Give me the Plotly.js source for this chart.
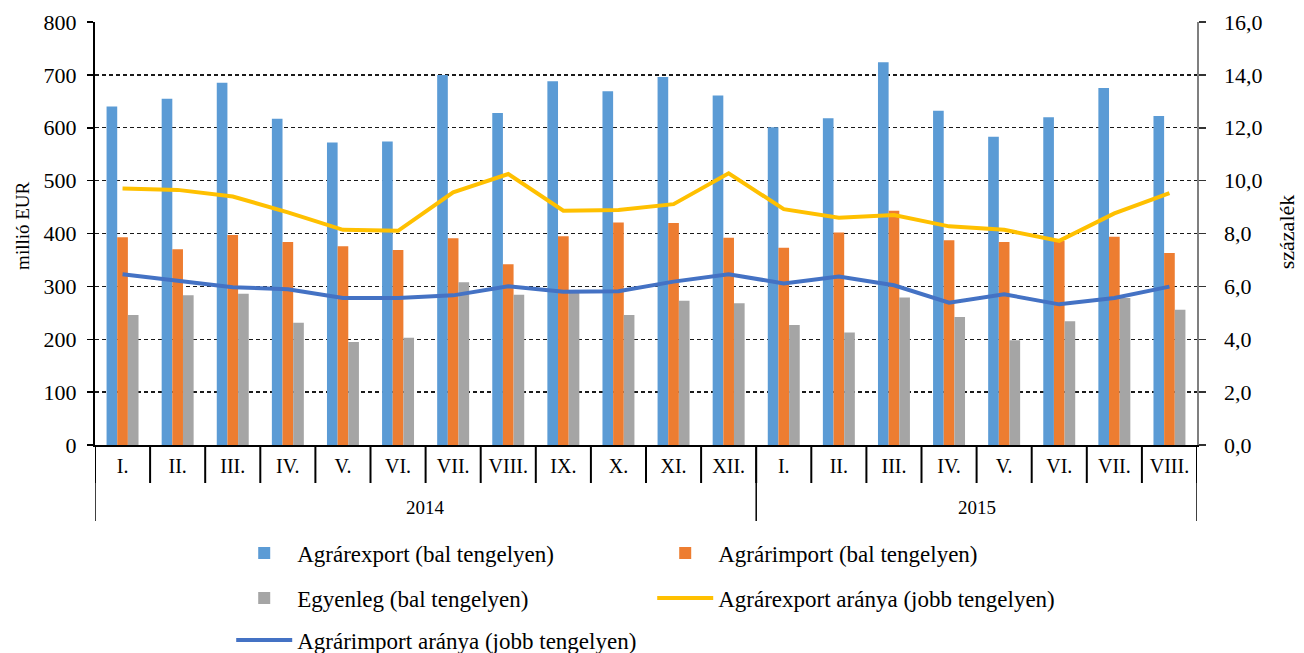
<!DOCTYPE html>
<html>
<head>
<meta charset="utf-8">
<script src="https://cdn.plot.ly/plotly-3.0.1.min.js"></script>
<style>html,body{margin:0;padding:0;background:#fff;}#chart{width:1304px;height:653px;}</style>
</head>
<body>
<div id="chart"></div>
<script>
const years = ['2014','2015'];
const yearMonthCounts = [12, 8];
const months = ['I.','II.','III.','IV.','V.','VI.','VII.','VIII.','IX.','X.','XI.','XII.',
                'I.','II.','III.','IV.','V.','VI.','VII.','VIII.'];
const agrarExport = [640,655,685,617,572,574,700,628,688,669,696,661, 601,618,724,632,583,620,675,622];
const agrarImport = [393,370,397,384,376,369,391,342,395,421,420,392, 373,402,443,387,384,386,394,363];
const egyenleg    = [246,283,286,231,195,203,308,284,288,246,273,268, 227,213,279,242,198,234,278,256];
const exportArany = [9.70,9.65,9.40,8.80,8.14,8.10,9.56,10.25,8.86,8.89,9.11,10.28, 8.92,8.60,8.70,8.27,8.14,7.72,8.76,9.53];
const importArany = [6.46,6.20,5.97,5.89,5.56,5.56,5.66,6.00,5.80,5.82,6.18,6.46, 6.11,6.37,6.04,5.38,5.70,5.32,5.56,5.99];

const labels = ['Agrárexport (bal tengelyen)','Agrárimport (bal tengelyen)','Egyenleg (bal tengelyen)',
                'Agrárexport aránya (jobb tengelyen)','Agrárimport aránya (jobb tengelyen)'];

const FAM = 'Liberation Serif';
const f = (size) => ({family: FAM, size: size, color: '#000'});

const xIdx = months.map((_, i) => i);

const traces = [
  {type:'bar', name:labels[0], x:xIdx, y:agrarExport, marker:{color:'#5B9BD5'}, legend:'legend'},
  {type:'bar', name:labels[1], x:xIdx, y:agrarImport, marker:{color:'#ED7D31'}, legend:'legend'},
  {type:'bar', name:labels[2], x:xIdx, y:egyenleg, marker:{color:'#A5A5A5'}, legend:'legend2'},
  {type:'scatter', mode:'lines', name:labels[3], x:xIdx, y:exportArany, yaxis:'y2', line:{color:'#FFC000', width:4}, legend:'legend2'},
  {type:'scatter', mode:'lines', name:labels[4], x:xIdx, y:importArany, yaxis:'y2', line:{color:'#4472C4', width:4}, legend:'legend3'}
];

// axis separators (category boundaries) and year labels, positioned via the x axis scale
const shapes = [];
const annotations = [];
const monthRowH = 38 / 423, yearRowH = 76 / 423;
for (let i = 0; i <= months.length; i++) {
  shapes.push({type:'line', xref:'x', yref:'paper', x0:i-0.5, x1:i-0.5, y0:0, y1:-monthRowH,
               line:{color:'#000', width:2}});
}
let start = 0;
years.forEach((yr, k) => {
  const n = yearMonthCounts[k];
  shapes.push({type:'line', xref:'x', yref:'paper', x0:start-0.5, x1:start-0.5, y0:0, y1:-yearRowH,
               line:{color:'#000', width:1.5}});
  annotations.push({text:yr, xref:'x', yref:'paper', x:start + (n-1)/2, y:-62/423,
                    showarrow:false, font:f(19), xanchor:'center', yanchor:'middle'});
  start += n;
});
shapes.push({type:'line', xref:'x', yref:'paper', x0:start-0.5, x1:start-0.5, y0:0, y1:-yearRowH,
             line:{color:'#000', width:1.5}});

annotations.push({text:'millió EUR', xref:'paper', yref:'paper', x:(23-95)/1102, y:0.518, textangle:-90,
  showarrow:false, font:f(19), xanchor:'center', yanchor:'middle'});
annotations.push({text:'százalék', xref:'paper', yref:'paper', x:(1286-95)/1102, y:0.503, textangle:-90,
  showarrow:false, font:f(22), xanchor:'center', yanchor:'middle'});

const legendBase = {orientation:'h', xref:'paper', yref:'container', xanchor:'left', yanchor:'middle',
  entrywidth:350, entrywidthmode:'pixels', itemwidth:56, font:f(23), bgcolor:'rgba(0,0,0,0)', traceorder:'normal'};

const layout = {
  width:1304, height:653,
  margin:{l:95, r:107, t:22, b:208},
  paper_bgcolor:'#fff', plot_bgcolor:'#fff',
  font: f(20),
  separators: ', ',
  barmode:'group', bargap:0.42, bargroupgap:0,
  showlegend:true,
  legend: Object.assign({}, legendBase, {x:0.1236, y:1-553/653}),
  legend2: Object.assign({}, legendBase, {x:0.1236, y:1-598/653}),
  legend3: Object.assign({}, legendBase, {x:0.1236, y:1-640/653}),
  xaxis:{
    type:'linear', range:[-0.5, months.length-0.5],
    tickvals:xIdx, ticktext:months, ticks:'', ticklabelstandoff:2,
    showline:true, linecolor:'#000', linewidth:2,
    tickfont:f(20), showgrid:false, zeroline:false
  },
  yaxis:{
    range:[0,800], dtick:100, tick0:0,
    showline:true, linecolor:'#000', linewidth:2,
    ticks:'outside', ticklen:6, tickcolor:'#000', tickwidth:1.5,
    showgrid:true, gridcolor:'#1a1a1a', griddash:'4px,3px', gridwidth:1.4,
    zeroline:false, tickfont:f(22), ticklabelstandoff:6
  },
  yaxis2:{
    range:[0,16], dtick:2, tick0:0, overlaying:'y', side:'right',
    tickformat:'.1f',
    showline:true, linecolor:'#7f7f7f', linewidth:1.5,
    ticks:'outside', ticklen:7, tickcolor:'#333', tickwidth:1.5,
    showgrid:false, zeroline:false, tickfont:f(22), ticklabelstandoff:14
  },
  shapes: shapes,
  annotations: annotations
};

Plotly.newPlot('chart', traces, layout, {displayModeBar:false, staticPlot:true});
</script>
</body>
</html>
